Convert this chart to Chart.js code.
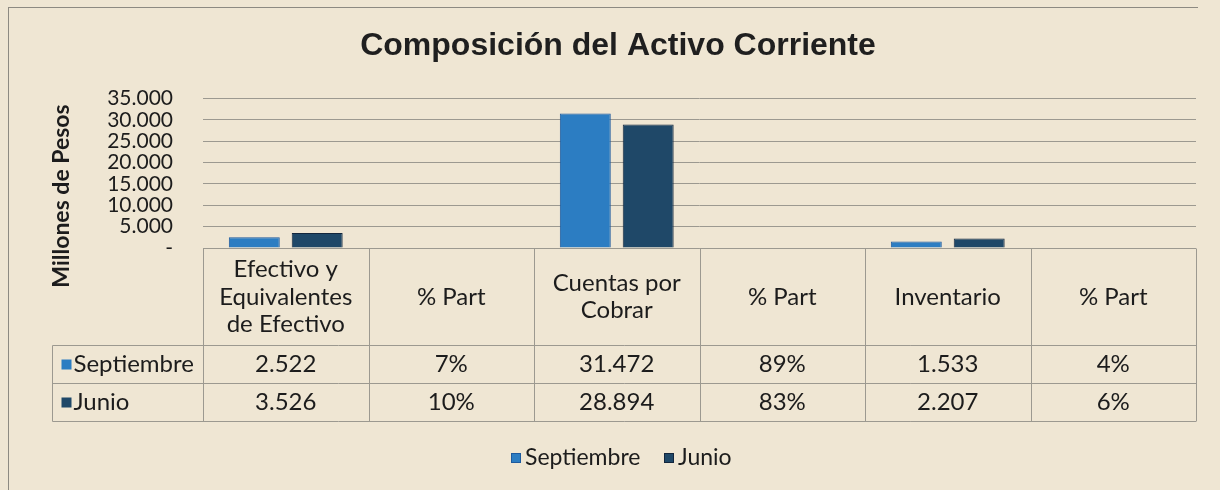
<!DOCTYPE html>
<html>
<head>
<meta charset="utf-8">
<script src="https://cdn.jsdelivr.net/npm/chart.js@4.4.1/dist/chart.umd.min.js"></script>
<style>
  html, body { margin: 0; padding: 0; background: #efe6d3; }
  #wrap { position: relative; width: 1220px; height: 490px; }
  #frame { position: absolute; left: 8px; top: 7px; width: 1189px; height: 483px;
           border-left: 1px solid #8d8a82; border-top: 1px solid #8d8a82; pointer-events: none; }
</style>
</head>
<body>
<div id="wrap">
  <canvas id="chart" width="1220" height="490"></canvas>
  <div id="frame"></div>
</div>
<script>
// categories (multi-line labels for the table header)
const categories = [["Efectivo y", "Equivalentes", "de Efectivo"], "% Part", ["Cuentas por", "Cobrar"], "% Part", "Inventario", "% Part"];
const septiembre = [2522, 0.07, 31472, 0.89, 1533, 0.04];
const junio = [3526, 0.10, 28894, 0.83, 2207, 0.06];
const yTicks = [0, 5000, 10000, 15000, 20000, 25000, 30000, 35000];

const SEPT_COLOR = "#2c7dc2";
const JUN_COLOR = "#1f4868";
const TEXT = "#1c1c1c";
const LINE = "#9c9990";
const FONT = "Lato";

function fmtNum(v) {
  if (v === 0) return "-";
  return String(Math.round(v)).replace(/\B(?=(\d{3})+(?!\d))/g, ".");
}
function fmtCell(v, i) {
  return categories[i] === "% Part" ? Math.round(v * 100) + "%" : fmtNum(v);
}

// data table under the plot, y axis title and legend
const dataTable = {
  id: "dataTable",
  afterDraw(chart) {
    const { ctx, chartArea } = chart;
    const x = chart.scales.x;
    const n = categories.length;
    const colW = (x.right - x.left) / n;
    const top = Math.round(chartArea.bottom) + 0.5;
    const headH = 97, rowH = 38;
    const leftEdge = Math.round(x.left - 151) + 0.5;
    const bottom = top + headH + rowH * 2;
    const sets = chart.data.datasets;

    ctx.save();
    ctx.strokeStyle = LINE;
    ctx.lineWidth = 1;
    ctx.beginPath();
    ctx.moveTo(x.left, top); ctx.lineTo(x.right, top);
    for (let r = 1; r <= 3; r++) {
      const yy = top + headH + rowH * (r - 1);
      ctx.moveTo(leftEdge, yy); ctx.lineTo(x.right, yy);
    }
    for (let i = 0; i <= n; i++) {
      const vx = Math.round(x.left + i * colW) + 0.5;
      ctx.moveTo(vx, top); ctx.lineTo(vx, bottom);
    }
    ctx.moveTo(leftEdge, top + headH); ctx.lineTo(leftEdge, bottom);
    ctx.stroke();

    ctx.fillStyle = TEXT;
    ctx.font = "24px " + FONT;
    ctx.textAlign = "center";
    ctx.textBaseline = "middle";
    categories.forEach((lab, i) => {
      const cx = x.getPixelForTick(i);
      const lines = Array.isArray(lab) ? lab : [lab];
      const lh = 27.5;
      const y0 = top + headH / 2 - (lines.length - 1) * lh / 2;
      lines.forEach((t, k) => ctx.fillText(t, cx, y0 + k * lh));
    });

    sets.forEach((ds, r) => {
      const cy = top + headH + rowH * r + rowH / 2;
      ctx.textAlign = "center";
      ctx.fillStyle = TEXT;
      ds.data.forEach((v, i) => ctx.fillText(fmtCell(v, i), x.getPixelForTick(i), cy));
      ctx.fillStyle = ds.legendColor;
      ctx.fillRect(leftEdge + 9, cy - 5, 10, 10);
      ctx.fillStyle = TEXT;
      ctx.textAlign = "left";
      ctx.fillText(ds.label, leftEdge + 21, cy);
    });

    // legend below the table
    const ly = 458;
    const lx = [511, 664];
    ctx.font = "23px " + FONT;
    sets.forEach((ds, r) => {
      ctx.fillStyle = ds.legendColor;
      ctx.fillRect(lx[r], ly - 5, 10, 10);
      ctx.strokeStyle = ds.borderColor;
      ctx.strokeRect(lx[r] + 0.5, ly - 4.5, 9, 9);
      ctx.fillStyle = TEXT;
      ctx.textAlign = "left";
      ctx.fillText(ds.label, lx[r] + 14, ly);
    });

    // y axis title
    ctx.translate(62, 196);
    ctx.rotate(-Math.PI / 2);
    ctx.font = "bold 23px " + FONT;
    ctx.textAlign = "center";
    ctx.fillStyle = TEXT;
    ctx.fillText("Millones de Pesos", 0, 0);
    ctx.restore();
  }
};

// the % Part values are far too small to show as bars at this scale
const tiny = (c) => c.raw < 100;

new Chart(document.getElementById("chart"), {
  type: "bar",
  data: {
    labels: categories,
    datasets: [
      { label: "Septiembre", data: septiembre, legendColor: SEPT_COLOR,
        backgroundColor: (c) => (tiny(c) ? "transparent" : SEPT_COLOR),
        borderColor: "#1d5a9e", borderWidth: (c) => (tiny(c) ? 0 : 1),
        barPercentage: 0.81, categoryPercentage: 0.76 },
      { label: "Junio", data: junio, legendColor: JUN_COLOR,
        backgroundColor: (c) => (tiny(c) ? "transparent" : JUN_COLOR),
        borderColor: "#13263d", borderWidth: (c) => (tiny(c) ? 0 : 1),
        barPercentage: 0.81, categoryPercentage: 0.76 }
    ]
  },
  options: {
    responsive: false,
    animation: false,
    devicePixelRatio: 1,
    layout: { padding: { top: 5, left: 40, right: 24, bottom: 0 } },
    scales: {
      x: {
        ticks: { display: false },
        grid: { display: false },
        border: { display: false },
        afterFit: (s) => { s.height = 242; }
      },
      y: {
        min: 0,
        max: 35000,
        afterBuildTicks: (s) => { s.ticks = yTicks.map(v => ({ value: v })); },
        ticks: {
          autoSkip: false,
          padding: 30,
          color: TEXT,
          font: { family: FONT, size: 21 },
          callback: (v) => fmtNum(v)
        },
        grid: { color: LINE, drawTicks: false },
        border: { display: false },
        afterFit: (s) => { s.width = 163; }
      }
    },
    plugins: {
      title: {
        display: true,
        text: "Composición del Activo Corriente",
        color: "#1f1f1f",
        font: { family: "Liberation Sans", size: 32, weight: "bold" },
        padding: { top: 22, bottom: 33 }
      },
      legend: { display: false },
      tooltip: { enabled: false }
    }
  },
  plugins: [dataTable]
});
</script>
</body>
</html>
